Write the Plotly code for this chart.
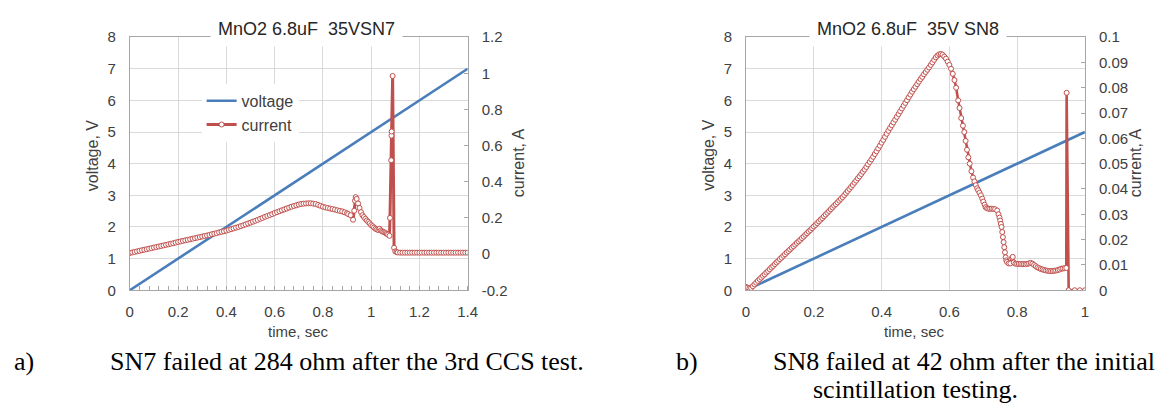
import plotly.graph_objects as go

# ---------------- data ----------------
# a) SN7: linear voltage ramp and leakage current
time_a_v = [0.0, 1.4]
voltage_a = [0.0, 7.0]

time_a = [0.00, 0.01, 0.02, 0.03, 0.04, 0.05, 0.06, 0.07, 0.08, 0.09,
          0.10, 0.11, 0.12, 0.13, 0.14, 0.15, 0.16, 0.17, 0.18, 0.19,
          0.20, 0.21, 0.22, 0.23, 0.24, 0.25, 0.26, 0.27, 0.28, 0.29,
          0.30, 0.31, 0.32, 0.33, 0.34, 0.35, 0.36, 0.37, 0.38, 0.39,
          0.40, 0.41, 0.42, 0.43, 0.44, 0.45, 0.46, 0.47, 0.48, 0.49,
          0.50, 0.51, 0.52, 0.53, 0.54, 0.55, 0.56, 0.57, 0.58, 0.59,
          0.60, 0.61, 0.62, 0.63, 0.64, 0.65, 0.66, 0.67, 0.68, 0.69,
          0.70, 0.71, 0.72, 0.73, 0.74, 0.75, 0.76, 0.77, 0.78, 0.79,
          0.80, 0.81, 0.82, 0.83, 0.84, 0.85, 0.86, 0.87, 0.88, 0.89,
          0.90, 0.905, 0.915, 0.925, 0.930, 0.933, 0.936, 0.940, 0.946, 0.952,
          0.958, 0.964, 0.970, 0.976, 0.982, 0.988, 0.994, 1.000, 1.006, 1.012,
          1.018, 1.024, 1.030, 1.035, 1.040, 1.045, 1.050, 1.055, 1.060, 1.065,
          1.070, 1.076, 1.078, 1.083, 1.084, 1.085, 1.089, 1.095, 1.100, 1.105,
          1.11, 1.12, 1.13, 1.14, 1.15, 1.16, 1.17, 1.18, 1.19, 1.20,
          1.21, 1.22, 1.23, 1.24, 1.25, 1.26, 1.27, 1.28, 1.29, 1.30,
          1.31, 1.32, 1.33, 1.34, 1.35, 1.36, 1.37, 1.38, 1.39, 1.40]
current_a = [0.006, 0.009, 0.012, 0.015, 0.018, 0.021, 0.024, 0.027, 0.030, 0.033,
             0.036, 0.039, 0.042, 0.045, 0.048, 0.051, 0.054, 0.057, 0.060, 0.064,
             0.067, 0.070, 0.073, 0.076, 0.079, 0.082, 0.085, 0.088, 0.091, 0.094,
             0.097, 0.100, 0.103, 0.106, 0.110, 0.113, 0.116, 0.120, 0.123, 0.126,
             0.130, 0.134, 0.138, 0.142, 0.146, 0.150, 0.155, 0.159, 0.164, 0.169,
             0.174, 0.179, 0.184, 0.189, 0.195, 0.200, 0.206, 0.211, 0.216, 0.221,
             0.227, 0.232, 0.237, 0.242, 0.247, 0.252, 0.257, 0.262, 0.266, 0.270,
             0.274, 0.277, 0.279, 0.280, 0.281, 0.281, 0.279, 0.277, 0.272, 0.267,
             0.262, 0.258, 0.255, 0.252, 0.249, 0.246, 0.242, 0.239, 0.236, 0.231,
             0.226, 0.221, 0.215, 0.190, 0.240, 0.295, 0.315, 0.305, 0.280, 0.255,
             0.232, 0.215, 0.205, 0.195, 0.186, 0.178, 0.170, 0.160, 0.154, 0.147,
             0.140, 0.136, 0.133, 0.140, 0.131, 0.126, 0.123, 0.120, 0.116, 0.112,
             0.108, 0.101, 0.200, 0.519, 0.655, 0.678, 0.985, 0.035, 0.015, 0.011,
             0.009, 0.008, 0.008, 0.008, 0.008, 0.008, 0.008, 0.008, 0.008, 0.008,
             0.008, 0.008, 0.008, 0.008, 0.008, 0.008, 0.008, 0.008, 0.008, 0.008,
             0.008, 0.008, 0.008, 0.008, 0.008, 0.008, 0.008, 0.008, 0.008, 0.008]

# b) SN8
time_b_v = [0.0, 1.0]
voltage_b = [0.0, 5.0]

time_b = [0.000, 0.005, 0.010, 0.015, 0.020, 0.025, 0.030, 0.035, 0.040, 0.045,
          0.050, 0.055, 0.060, 0.065, 0.070, 0.075, 0.080, 0.085, 0.090, 0.095,
          0.100, 0.105, 0.110, 0.115, 0.120, 0.125, 0.130, 0.135, 0.140, 0.145,
          0.150, 0.155, 0.160, 0.165, 0.170, 0.175, 0.180, 0.185, 0.190, 0.195,
          0.200, 0.205, 0.210, 0.215, 0.220, 0.225, 0.230, 0.235, 0.240, 0.245,
          0.250, 0.255, 0.260, 0.265, 0.270, 0.275, 0.280, 0.285, 0.290, 0.295,
          0.300, 0.305, 0.310, 0.315, 0.320, 0.325, 0.330, 0.335, 0.340, 0.345,
          0.350, 0.355, 0.360, 0.365, 0.370, 0.375, 0.380, 0.385, 0.390, 0.395,
          0.400, 0.405, 0.410, 0.415, 0.420, 0.425, 0.430, 0.435, 0.440, 0.445,
          0.450, 0.455, 0.460, 0.465, 0.470, 0.475, 0.480, 0.485, 0.490, 0.495,
          0.500, 0.505, 0.510, 0.515, 0.520, 0.525, 0.530, 0.535, 0.540, 0.545,
          0.550, 0.555, 0.560, 0.565, 0.570, 0.575, 0.580, 0.585, 0.590, 0.595,
          0.600, 0.605, 0.610, 0.615, 0.620, 0.626, 0.630, 0.635, 0.640, 0.644,
          0.648, 0.652, 0.656, 0.660, 0.665, 0.670, 0.674, 0.678, 0.682, 0.685,
          0.689, 0.693, 0.697, 0.700, 0.704, 0.707, 0.711, 0.715, 0.720, 0.725,
          0.730, 0.735, 0.741, 0.745, 0.748, 0.750, 0.752, 0.754, 0.756, 0.758,
          0.760, 0.762, 0.764, 0.766, 0.768, 0.770, 0.775, 0.780, 0.785, 0.787,
          0.790, 0.795, 0.800, 0.805, 0.810, 0.815, 0.820, 0.825, 0.830, 0.835,
          0.840, 0.845, 0.850, 0.855, 0.860, 0.865, 0.870, 0.875, 0.880, 0.885,
          0.890, 0.895, 0.900, 0.905, 0.910, 0.915, 0.920, 0.925, 0.930, 0.935,
          0.940, 0.945, 0.946, 0.952, 0.970, 0.985, 1.000]
current_b = [0.0013, 0.0010, 0.0008, 0.0009, 0.0016, 0.0023, 0.0030, 0.0037, 0.0044, 0.0050,
             0.0057, 0.0063, 0.0070, 0.0076, 0.0083, 0.0090, 0.0096, 0.0103, 0.0110, 0.0116,
             0.0123, 0.0129, 0.0136, 0.0142, 0.0149, 0.0155, 0.0161, 0.0168, 0.0174, 0.0180,
             0.0187, 0.0193, 0.0199, 0.0206, 0.0212, 0.0219, 0.0225, 0.0232, 0.0238, 0.0245,
             0.0252, 0.0258, 0.0265, 0.0272, 0.0279, 0.0285, 0.0292, 0.0299, 0.0306, 0.0313,
             0.0320, 0.0327, 0.0334, 0.0340, 0.0347, 0.0354, 0.0361, 0.0368, 0.0376, 0.0384,
             0.0392, 0.0400, 0.0408, 0.0416, 0.0425, 0.0433, 0.0442, 0.0450, 0.0459, 0.0468,
             0.0477, 0.0487, 0.0497, 0.0507, 0.0517, 0.0527, 0.0538, 0.0549, 0.0560, 0.0571,
             0.0583, 0.0594, 0.0606, 0.0618, 0.0630, 0.0641, 0.0652, 0.0663, 0.0674, 0.0685,
             0.0696, 0.0707, 0.0718, 0.0729, 0.0740, 0.0751, 0.0762, 0.0773, 0.0784, 0.0794,
             0.0804, 0.0814, 0.0824, 0.0834, 0.0843, 0.0853, 0.0862, 0.0871, 0.0880, 0.0890,
             0.0900, 0.0910, 0.0920, 0.0927, 0.0932, 0.0933, 0.0930, 0.0923, 0.0915, 0.0903,
             0.0890, 0.0875, 0.0855, 0.0830, 0.0800, 0.0750, 0.0720, 0.0680, 0.0650, 0.0625,
             0.0590, 0.0555, 0.0525, 0.0500, 0.0470, 0.0445, 0.0430, 0.0415, 0.0403, 0.0395,
             0.0385, 0.0375, 0.0362, 0.0350, 0.0338, 0.0328, 0.0324, 0.0322, 0.0322, 0.0322,
             0.0321, 0.0320, 0.0315, 0.0300, 0.0287, 0.0275, 0.0262, 0.0250, 0.0230, 0.0210,
             0.0190, 0.0170, 0.0150, 0.0130, 0.0118, 0.0112, 0.0106, 0.0106, 0.0128, 0.0132,
             0.0110, 0.0105, 0.0104, 0.0104, 0.0104, 0.0103, 0.0103, 0.0103, 0.0104, 0.0106,
             0.0108, 0.0105, 0.0100, 0.0095, 0.0090, 0.0087, 0.0084, 0.0082, 0.0080, 0.0078,
             0.0077, 0.0076, 0.0076, 0.0076, 0.0077, 0.0078, 0.0080, 0.0082, 0.0085, 0.0086,
             0.0087, 0.0088, 0.0780, 0.0, 0.0, 0.0, 0.0]

# tick labels
time_ticks_a = [0, 0.2, 0.4, 0.6, 0.8, 1, 1.2, 1.4]
time_ticks_b = [0, 0.2, 0.4, 0.6, 0.8, 1]
volt_ticks = [0, 1, 2, 3, 4, 5, 6, 7, 8]
cur_ticks_a = [-0.2, 0, 0.2, 0.4, 0.6, 0.8, 1, 1.2]
cur_labels_a = ["-0.2", "0", "0.2", "0.4", "0.6", "0.8", "1", "1.2"]
cur_ticks_b = [0, 0.01, 0.02, 0.03, 0.04, 0.05, 0.06, 0.07, 0.08, 0.09, 0.1]
cur_labels_b = ["0", "0.01", "0.02", "0.03", "0.04", "0.05", "0.06", "0.07", "0.08", "0.09", "0.1"]

titles = ["MnO2 6.8uF  35VSN7", "MnO2 6.8uF  35V SN8"]

# ---------------- styling ----------------
W, H = 1172, 414
BLUE = "#4a7ebb"
RED = "#c0504d"
GRID = "#d9d9d9"
AXLINE = "#a6a6a6"
TXT = "#404040"
SANS = "Liberation Sans, Arial, sans-serif"
SERIF = "Liberation Serif, Times New Roman, serif"


def px(x):
    return x / W


def py(y):
    return 1 - y / H


dom_y = [py(293.3), py(29.3)]
dom_xa = [px(127.3), px(469.3)]
dom_xb = [px(751), px(1094)]

fig = go.Figure()

fig.add_trace(go.Scatter(x=time_a_v, y=voltage_a, xaxis="x", yaxis="y", mode="lines",
                         name="voltage", line=dict(color=BLUE, width=2.6)))
fig.add_trace(go.Scatter(x=time_a, y=current_a, xaxis="x", yaxis="y2", mode="lines+markers",
                         name="current", line=dict(color=RED, width=3),
                         marker=dict(symbol="circle", size=5, color="white",
                                     line=dict(color=RED, width=1))))
fig.add_trace(go.Scatter(x=time_b_v, y=voltage_b, xaxis="x2", yaxis="y3", mode="lines",
                         name="voltage", showlegend=False, line=dict(color=BLUE, width=2.6)))
fig.add_trace(go.Scatter(x=time_b, y=current_b, xaxis="x2", yaxis="y4", mode="lines+markers",
                         name="current", showlegend=False, line=dict(color=RED, width=2.6),
                         marker=dict(symbol="circle", size=5, color="white",
                                     line=dict(color=RED, width=1))))

tickfont = dict(family=SANS, size=15, color=TXT)

common_x = dict(showgrid=True, gridcolor=GRID, gridwidth=1, showline=True, linecolor=AXLINE,
                linewidth=1, mirror=True, zeroline=False, ticks="", tickfont=tickfont,
                ticklabelstandoff=8)
common_yl = dict(showgrid=True, gridcolor=GRID, gridwidth=1, showline=True, linecolor=AXLINE,
                 linewidth=1, zeroline=False, ticks="", tickfont=tickfont, domain=dom_y,
                 range=[0, 8], tickvals=volt_ticks, ticklabelstandoff=10)
common_yr = dict(showgrid=False, showline=True, linecolor=AXLINE, linewidth=1, zeroline=False,
                 ticks="inside", ticklen=4, tickcolor=AXLINE, tickfont=tickfont,
                 side="right", ticklabelstandoff=10)

fig.update_layout(
    width=W, height=H, margin=dict(l=0, r=0, t=0, b=0),
    paper_bgcolor="white", plot_bgcolor="white",
    font=dict(family=SANS, color=TXT),
    xaxis=dict(domain=dom_xa, anchor="y", range=[0, 1.4], tickvals=time_ticks_a,
               minor=dict(dtick=0.04, tick0=0, ticks="inside", ticklen=4, tickcolor=AXLINE,
                          showgrid=False),
               **common_x),
    yaxis=dict(anchor="x", **common_yl),
    yaxis2=dict(anchor="x", overlaying="y", range=[-0.2, 1.2], tickvals=cur_ticks_a,
                ticktext=cur_labels_a, **common_yr),
    xaxis2=dict(domain=dom_xb, anchor="y3", range=[0, 1], tickvals=time_ticks_b, **common_x),
    yaxis3=dict(anchor="x2", **common_yl),
    yaxis4=dict(anchor="x2", overlaying="y3", range=[0, 0.1], tickvals=cur_ticks_b,
                ticktext=cur_labels_b, **common_yr),
    legend=dict(x=px(200), y=py(78), xanchor="left", yanchor="top", bgcolor="white",
                font=dict(family=SANS, size=16, color=TXT), itemwidth=30,
                tracegroupgap=6, traceorder="normal"),
    showlegend=True,
)

ann = []
# chart titles sitting on the top border
for txt, cx in zip(titles, [306, 915]):
    ann.append(dict(text=txt, x=px(cx), y=py(20.5), xref="paper", yref="paper",
                    showarrow=False, xanchor="center", yanchor="middle",
                    font=dict(family=SANS, size=18, color="#262626"),
                    bgcolor="white", borderpad=7))
# axis titles
for cx in [89, 713]:
    ann.append(dict(text="voltage, V", x=px(cx), y=py(152.5), xref="paper", yref="paper",
                    showarrow=False, textangle=-90, xanchor="center", yanchor="middle",
                    font=dict(family=SANS, size=16, color=TXT)))
for cx in [521, 1145.5]:
    ann.append(dict(text="current, A", x=px(cx), y=py(160), xref="paper", yref="paper",
                    showarrow=False, textangle=-90, xanchor="center", yanchor="middle",
                    font=dict(family=SANS, size=16, color=TXT)))
for cx in [298, 922]:
    ann.append(dict(text="time, sec", x=px(cx), y=py(336), xref="paper", yref="paper",
                    showarrow=False, xanchor="center", yanchor="middle",
                    font=dict(family=SANS, size=15, color=TXT)))
# captions
captions = [("a)", 8, 368), ("SN7 failed at 284 ohm after the 3rd CCS test.", 105, 368),
            ("b)", 678, 368), ("SN8 failed at 42 ohm after the initial", 776, 368),
            ("scintillation testing.", 817, 397)]
for txt, lx, cy in captions:
    ann.append(dict(text=txt, x=px(lx), y=py(cy), xref="paper", yref="paper",
                    showarrow=False, xanchor="left", yanchor="middle",
                    font=dict(family=SERIF, size=26, color="black")))
fig.update_layout(annotations=ann)

fig.write_html("out.html")
